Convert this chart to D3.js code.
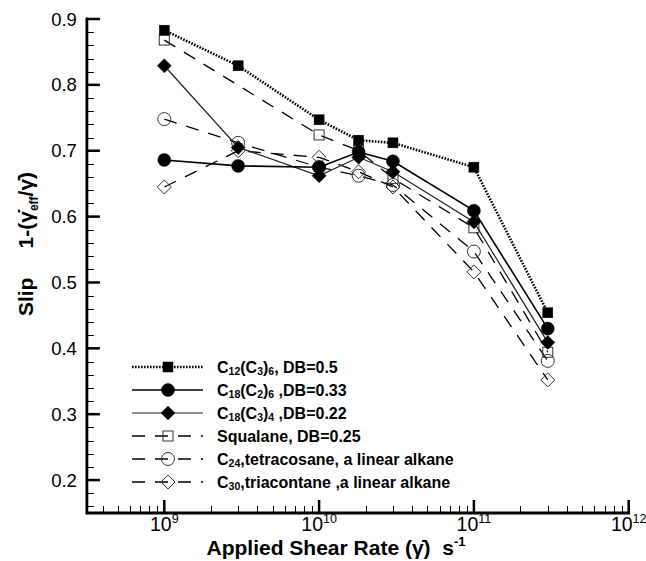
<!DOCTYPE html>
<html>
<head>
<meta charset="utf-8">
<script src="https://cdn.jsdelivr.net/npm/d3@7/dist/d3.min.js"></script>
<style>
  html, body { margin: 0; padding: 0; background: #fff; }
  svg { display: block; font-family: "Liberation Sans", Arial, Helvetica, sans-serif; }
</style>
</head>
<body>
<svg id="chart" width="646" height="561"></svg>
<script>
// Shear rates (s^-1) at which slip was computed
const shearRates = [1e9, 3e9, 1e10, 1.8e10, 3e10, 1e11, 3e11];

// Slip 1-(gamma_eff/gamma) for each molecule; null = not computed
const slipC12C3_6   = [0.883, 0.829, 0.747, 0.716, 0.712, 0.675, 0.454];
const slipC18C2_6   = [0.686, 0.677, 0.675, 0.698, 0.684, 0.609, 0.430];
const slipC18C3_4   = [0.829, 0.705, 0.662, 0.690, 0.668, 0.592, 0.409];
const slipSqualane  = [0.868, null,  0.724, 0.700, 0.658, 0.583, 0.394];
const slipC24       = [0.748, 0.712, 0.675, 0.662, 0.648, 0.547, 0.381];
const slipC30       = [0.645, 0.700, 0.690, 0.668, 0.645, 0.516, 0.352];

const yTickValues = [0.2, 0.3, 0.4, 0.5, 0.6, 0.7, 0.8, 0.9];
const xTickExponents = [9, 10, 11, 12];

// legend names: plain strings, or [text] for a subscript
const series = [
  { name: ["C", ["12"], "(C", ["3"], ")", ["6"], ", DB=0.5"],
    values: slipC12C3_6, marker: "square", filled: true,
    stroke: "#000", width: 2.6, dash: "1.6,1.4" },
  { name: ["C", ["18"], "(C", ["2"], ")", ["6"], " ,DB=0.33"],
    values: slipC18C2_6, marker: "circle", filled: true,
    stroke: "#000", width: 1.6, dash: null },
  { name: ["C", ["18"], "(C", ["3"], ")", ["4"], " ,DB=0.22"],
    values: slipC18C3_4, marker: "diamond", filled: true,
    stroke: "#222", width: 1.2, dash: null },
  { name: ["Squalane, DB=0.25"],
    values: slipSqualane, marker: "square", filled: false,
    stroke: "#000", width: 1.3, dash: "13,10" },
  { name: ["C", ["24"], ",tetracosane, a linear alkane"],
    values: slipC24, marker: "circle", filled: false,
    stroke: "#000", width: 1.3, dash: "13,10" },
  { name: ["C", ["30"], ",triacontane ,a linear alkane"],
    values: slipC30, marker: "diamond", filled: false,
    stroke: "#000", width: 1.3, dash: "13,10" }
];

const svg = d3.select("#chart");

const x = d3.scaleLog().domain([Math.pow(10, 8.5), 1e12]).range([86.9, 628.7]);
const y = d3.scaleLinear().domain([0.15, 0.9]).range([513, 19]);

const x0 = x.range()[0], yb = y.range()[0];

// ---- axes (ticks drawn inward) ----
const axes = svg.append("g");

// y minor ticks every 0.02
const yMinor = d3.range(16, 91, 2).map(v => v / 100).filter(v => yTickValues.every(t => Math.abs(t - v) > 1e-6));
axes.selectAll("line.yminor").data(yMinor).join("line")
  .attr("x1", x0).attr("x2", x0 + 7)
  .attr("y1", d => Math.round(y(d)) + 0.5).attr("y2", d => Math.round(y(d)) + 0.5)
  .attr("stroke", "#000").attr("stroke-width", 1);
axes.selectAll("line.ymajor").data(yTickValues).join("line")
  .attr("x1", x0).attr("x2", x0 + 13)
  .attr("y1", d => y(d)).attr("y2", d => y(d))
  .attr("stroke", "#000").attr("stroke-width", 2.5);
axes.selectAll("text.ylab").data(yTickValues).join("text")
  .attr("x", x0 - 10).attr("y", d => y(d))
  .attr("text-anchor", "end").attr("dominant-baseline", "central")
  .attr("font-size", 18.5).attr("fill", "#000")
  .text(d => d.toFixed(1));

// x minor ticks 2..9 per decade
const xMinor = [];
for (let e = 8; e <= 11; e++) for (let m = 2; m <= 9; m++) {
  const v = m * Math.pow(10, e);
  if (v > x.domain()[0] && v < x.domain()[1]) xMinor.push(v);
}
axes.selectAll("line.xminor").data(xMinor).join("line")
  .attr("x1", d => Math.round(x(d)) + 0.5).attr("x2", d => Math.round(x(d)) + 0.5)
  .attr("y1", yb).attr("y2", yb - 7)
  .attr("stroke", "#000").attr("stroke-width", 1);
const xMajor = xTickExponents.map(e => Math.pow(10, e));
axes.selectAll("line.xmajor").data(xMajor).join("line")
  .attr("x1", d => x(d)).attr("x2", d => x(d))
  .attr("y1", yb).attr("y2", yb - 13)
  .attr("stroke", "#000").attr("stroke-width", 2.5);
const xl = axes.selectAll("text.xlab").data(xTickExponents).join("text")
  .attr("x", e => x(Math.pow(10, e))).attr("y", 531)
  .attr("text-anchor", "middle").attr("font-size", 19.5).attr("fill", "#000");
xl.append("tspan").text("10");
xl.append("tspan").attr("dy", -8).attr("font-size", 12.5).text(e => e);

// axis lines
axes.append("path")
  .attr("d", `M${x0},${y.range()[1]}V${yb}H${x.range()[1]}`)
  .attr("fill", "none").attr("stroke", "#000").attr("stroke-width", 2.8)
  .attr("stroke-linejoin", "miter").attr("stroke-linecap", "square");

// ---- marker shapes ----
function drawMarker(g, type, filled, cx, cy) {
  const fill = filled ? "#000" : "none";
  const stroke = filled ? "#000" : "#333";
  const sw = filled ? 0.5 : 1;
  if (type === "square") {
    const s = 10;
    g.append("rect").attr("x", cx - s / 2).attr("y", cy - s / 2)
      .attr("width", s).attr("height", s)
      .attr("fill", fill).attr("stroke", stroke).attr("stroke-width", sw);
  } else if (type === "circle") {
    g.append("circle").attr("cx", cx).attr("cy", cy).attr("r", 6.5)
      .attr("fill", fill).attr("stroke", stroke).attr("stroke-width", sw);
  } else {
    const h = 7;
    g.append("path").attr("d", `M${cx},${cy - h}L${cx + h},${cy}L${cx},${cy + h}L${cx - h},${cy}Z`)
      .attr("fill", fill).attr("stroke", stroke).attr("stroke-width", sw);
  }
}

// ---- series lines and markers ----
const line = d3.line()
  .defined(d => d[1] != null)
  .x(d => x(d[0])).y(d => y(d[1]));

const plot = svg.append("g");
series.slice().reverse().forEach(s => {
  const pts = shearRates.map((r, i) => [r, s.values[i]]).filter(d => d[1] != null);
  plot.append("path").datum(pts).attr("d", line)
    .attr("fill", "none").attr("stroke", s.stroke).attr("stroke-width", s.width)
    .attr("stroke-dasharray", s.dash);
  const mg = plot.append("g");
  pts.forEach(d => drawMarker(mg, s.marker, s.filled, x(d[0]), y(d[1])));
});

// ---- legend ----
const legend = svg.append("g");
const rowY = i => 367 + i * 23;
series.forEach((s, i) => {
  const ly = rowY(i);
  legend.append("line").attr("x1", 132).attr("x2", 203).attr("y1", ly).attr("y2", ly)
    .attr("stroke", s.stroke).attr("stroke-width", s.width)
    .attr("stroke-dasharray", s.dash);
  drawMarker(legend, s.marker, s.filled, 168, ly);
  const t = legend.append("text").attr("x", 217).attr("y", ly)
    .attr("dominant-baseline", "central")
    .attr("font-size", 16).attr("font-weight", "bold").attr("fill", "#000");
  let shift = 0;
  s.name.forEach(part => {
    if (Array.isArray(part)) {
      t.append("tspan").attr("dy", 4 - shift).attr("font-size", 10.5).text(part[0]);
      shift = 4;
    } else {
      t.append("tspan").attr("dy", -shift).text(part);
      shift = 0;
    }
  });
});

// ---- axis titles ----
const xt = svg.append("text").attr("x", 336).attr("y", 555)
  .attr("text-anchor", "middle").attr("font-size", 21).attr("font-weight", "bold");
xt.append("tspan").text("Applied Shear Rate (\u03B3\u0307)\u00A0\u00A0s");
xt.append("tspan").attr("dy", -9).attr("font-size", 13).text("-1");

const yt = svg.append("text")
  .attr("transform", "translate(33,244) rotate(-90)")
  .attr("text-anchor", "middle").attr("font-size", 21).attr("font-weight", "bold");
yt.append("tspan").text("Slip\u00A0\u00A0\u00A0\u00A0\u00A01-(\u03B3\u0307");
yt.append("tspan").attr("dy", 5).attr("font-size", 12).text("eff");
yt.append("tspan").attr("dy", -5).text("/\u03B3\u0307)");
</script>
</body>
</html>
